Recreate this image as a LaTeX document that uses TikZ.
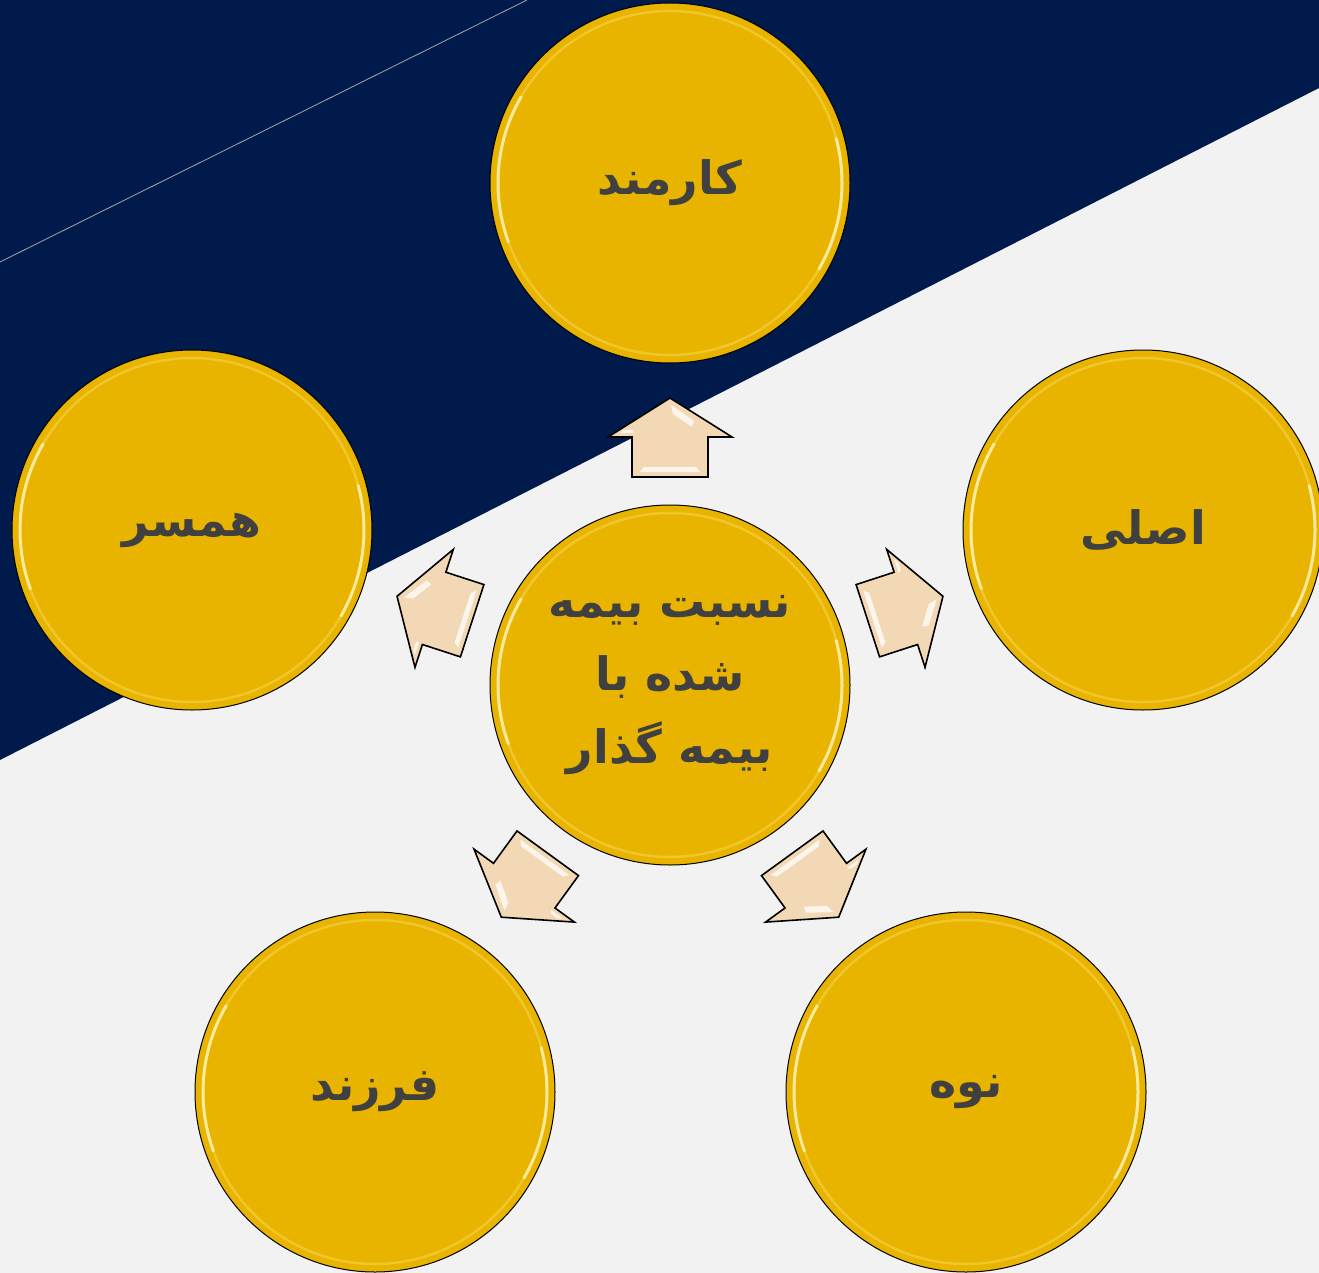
\documentclass[tikz,border=0pt]{standalone}
\usepackage{fontspec}
\TeXXeTstate=1
\newfontfamily\arfont[Script=Arabic]{DejaVu Sans}
\definecolor{navy}{HTML}{001A4C}
\definecolor{bggray}{HTML}{F2F2F2}
\definecolor{gold}{HTML}{E8B400}
\definecolor{rimyel}{HTML}{FFE87A}
\definecolor{peach}{HTML}{F2D8B4}
\definecolor{txtgray}{HTML}{404040}
\tikzset{
  gcircle/.style={circle, draw=black, line width=1pt, fill=gold, minimum size=360pt, inner sep=0pt,
    font=\arfont\bfseries\fontsize{46}{76}\selectfont, text=txtgray, align=center},
  rim/.style={draw=rimyel, line width=2.5pt, opacity=0.35},
  rimhi/.style={draw=rimyel!60!white, line width=3pt, opacity=0.85, line cap=round},
  arrowbody/.style={fill=peach, draw=black, line width=1.6pt, line join=miter},
  bevel/.style={fill=white, opacity=0.75, draw=none}
}
\newcommand\pentarrow[1]{%
  \begin{scope}[shift={(670,685)}, rotate=#1]
    \path[arrowbody] (0,-287) -- (62,-248) -- (38,-248) -- (38,-208) -- (-38,-208) -- (-38,-248) -- (-62,-248) -- cycle;
    \path[bevel] (1,-280) -- (24,-264) -- (22,-258) -- (3,-271) -- cycle;
    \path[bevel] (-30,-213) -- (30,-213) -- (26,-218) -- (-26,-218) -- cycle;
    \path[bevel] (-50,-252) -- (-36,-252) -- (-38,-255) -- (-46,-255) -- cycle;
  \end{scope}}
\begin{document}
\begin{tikzpicture}[x=1pt, y=-1pt]
\useasboundingbox (0,0) rectangle (1319,1273);
\fill[bggray] (0,0) rectangle (1319,1273);
\fill[navy] (0,0) -- (1319,0) -- (1319,88) -- (0,760) -- cycle;
\draw[gray!70, line width=0.8pt] (0,262) -- (527,0);

% arrows
\pentarrow{0}
\pentarrow{72}
\pentarrow{-72}
\pentarrow{144}
\pentarrow{-144}

% circles
\node[gcircle] (center) at (670,685) {\beginR نسبت بیمه\endR\\[-3pt]\beginR شده با\endR\\[-3pt]\beginR بیمه گذار\endR};
\node[gcircle] (top) at (670,183) {\beginR کارمند\endR};
\node[gcircle] (left) at (192,530) {\beginR همسر\endR};
\node[gcircle] (right) at (1143,530) {\beginR اصلی\endR};
\node[gcircle] (bl) at (375,1092) {\beginR فرزند\endR};
\node[gcircle] (br) at (966,1092) {\beginR نوه\endR};

\foreach \n in {center,top,left,right,bl,br}{
  \draw[rim] (\n.center) circle[radius=172pt];
  \draw[rimhi] (\n.center) ++(150:172pt) arc[start angle=150, end angle=200, radius=172pt];
  \draw[rimhi] (\n.center) ++(-30:172pt) arc[start angle=-30, end angle=15, radius=172pt];
}
\end{tikzpicture}
\end{document}
